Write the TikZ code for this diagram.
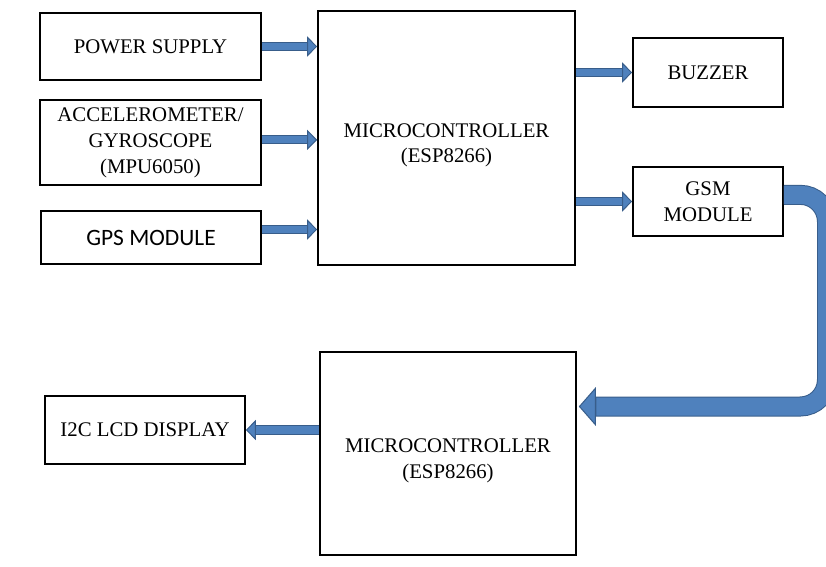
\documentclass[tikz,border=0pt]{standalone}
\usepackage{fontspec}
\setmainfont{Liberation Serif}
\newfontfamily\gpsfont{Carlito}
\usetikzlibrary{arrows.meta, positioning, calc}
\definecolor{arrowblue}{RGB}{79,129,189}
\definecolor{arrowedge}{RGB}{56,93,138}

\begin{document}
\begin{tikzpicture}[x=0.75pt, y=-0.75pt,
  blk/.style={draw, line width=1.2pt, fill=white, align=center, inner sep=2pt,
    font=\fontsize{15.6}{19.5}\selectfont},
  mcutext/.style={align=center, yshift=-5.5pt, font=\fontsize{15.6}{19}\selectfont},
  flow/.style={draw=arrowedge, line width=6.9pt,
    -{Triangle[length=7.5pt, width=15pt, fill=arrowblue, line width=0.75pt]},
    postaction={draw=arrowblue, line width=5.4pt, -, shorten >=8pt}},
  bigflow/.style={draw=arrowedge, line width=15pt, rounded corners=20pt,
    -{Triangle[length=12.75pt, width=29pt, fill=arrowblue, line width=0.75pt]},
    postaction={draw=arrowblue, line width=13.5pt, -, shorten >=13.2pt}}]
  \useasboundingbox (0,0) rectangle (826,567);
  \clip (0,0) rectangle (826,567);

  \node[blk, minimum width=165.75pt, minimum height=50.25pt] (power) at (150.5,46.5) {POWER SUPPLY};
  \node[blk, minimum width=165.75pt, minimum height=63.75pt] (accel) at (150.5,142.5) {ACCELEROMETER/\\GYROSCOPE\\(MPU6050)};
  \node[blk, minimum width=165pt, minimum height=39.75pt, font=\gpsfont\fontsize{17.6}{19.5}\selectfont] (gps) at (151,237.5) {GPS MODULE};
  \node[blk, minimum width=192.75pt, minimum height=190.5pt,
    label={[mcutext]center:{MICROCONTROLLER\\(ESP8266)}}] (mcua) at (446.5,138) {};
  \node[blk, minimum width=112.5pt, minimum height=51.75pt] (buzzer) at (708,72.5) {BUZZER};
  \node[blk, minimum width=112.5pt, minimum height=51.75pt] (gsm) at (708,201.5) {GSM\\MODULE};
  \node[blk, minimum width=192pt, minimum height=152.25pt,
    label={[mcutext]center:{MICROCONTROLLER\\(ESP8266)}}] (mcub) at (448,453.5) {};
  \node[blk, minimum width=150pt, minimum height=51pt] (lcd) at (145,430) {I2C LCD DISPLAY};

  \foreach \src/\dy in {power/0pt, accel/2pt, gps/6pt} {
    \coordinate (out) at ([yshift=\dy]\src.east);
    \draw[flow] (out) -- (mcua.west |- out);
  }
  \foreach \dst in {buzzer, gsm}
    \draw[flow] (mcua.east |- \dst.west) -- (\dst.west);
  \draw[flow] (mcub.west |- lcd.east) -- (lcd.east);

  \coordinate (gsmout) at ([yshift=5pt]gsm.east);
  \coordinate (bendbot) at (827,406.5);
  \draw[bigflow] (gsmout) -| (bendbot) -- ([xshift=1.5pt]mcub.east |- bendbot);
\end{tikzpicture}
\end{document}
